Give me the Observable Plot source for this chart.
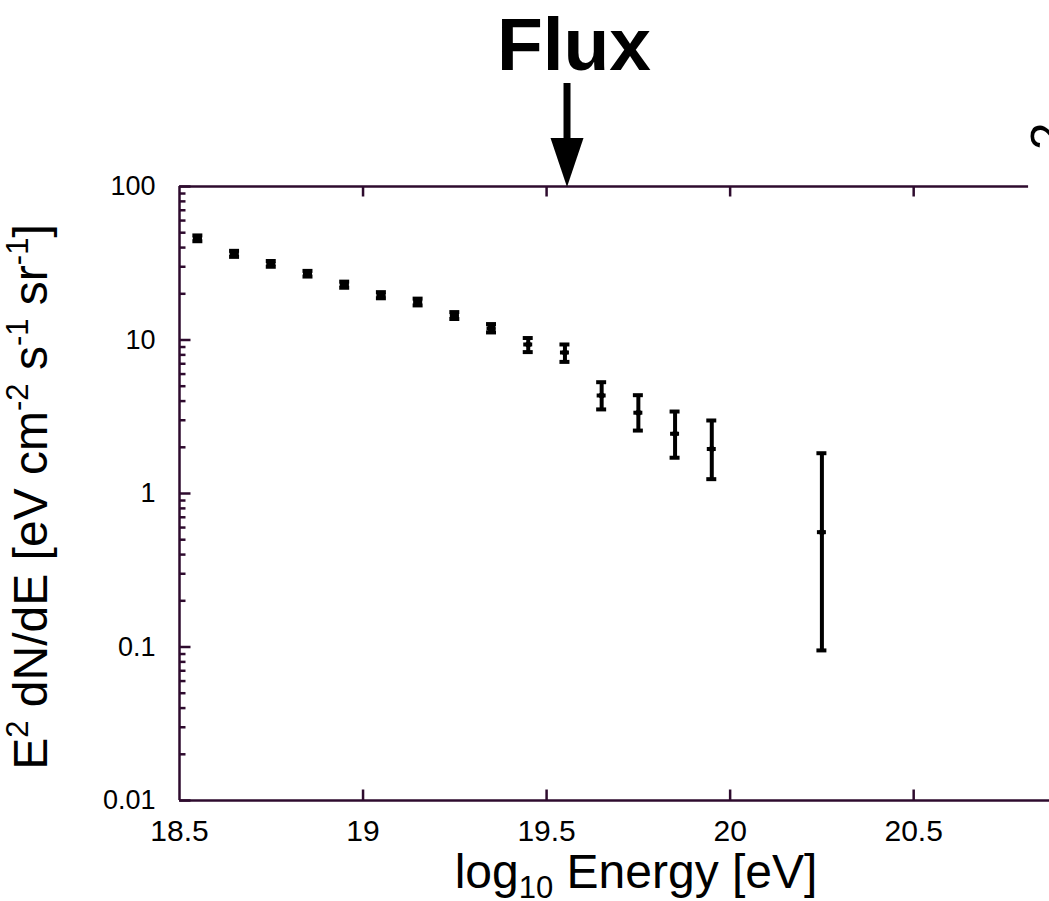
<!DOCTYPE html>
<html><head><meta charset="utf-8">
<script src="https://cdn.jsdelivr.net/npm/d3@7"></script>
<script src="https://cdn.jsdelivr.net/npm/@observablehq/plot@0.6"></script>
<style>html,body{margin:0;padding:0;background:#fff;} svg{display:block;}</style>
</head><body><div id="chart"></div>
<script>
// ---- data ----
const logEnergy = [18.55,18.65,18.75,18.85,18.95,19.05,19.15,19.25,19.35,19.45,19.55,19.65,19.75,19.85,19.95,20.25];
const flux      = [46,36.4,31.3,27.0,22.9,19.6,17.7,14.4,11.9,9.35,8.29,4.35,3.36,2.45,1.95,0.56];
const fluxLow   = [44,34.8,30.0,25.9,21.9,18.7,16.8,13.7,11.2,8.34,7.2,3.53,2.57,1.71,1.24,0.095];
const fluxHigh  = [48,38.1,32.7,28.2,24.0,20.5,18.6,15.2,12.7,10.3,9.35,5.31,4.37,3.42,2.99,1.83];
const xTicks = [18.5,19,19.5,20,20.5];
const xTickLabels = ["18.5","19","19.5","20","20.5"];
const yTicks = [0.01,0.1,1,10,100];
const yTickLabels = ["0.01","0.1","1","10","100"];
const xDomain = [18.5, 20.87];
const yDomain = [0.01, 100];
const topFrameEnd = 20.813;
const fluxArrowX = 19.557;
const titleText = "Flux";

// ---- derived ----
const rows = logEnergy.map((x, i) => ({x, y: flux[i], lo: fluxLow[i], hi: fluxHigh[i]}));
const yMinor = yTicks.slice(0, -1).flatMap(d => [2,3,4,5,6,7,8,9].map(k => d * k));
const capHalf = 0.0136;
const ink = "#000";
const axisInk = "#2e0b2e";
const font = "'Liberation Sans', Arial, Helvetica, sans-serif";

// tick-mark symbols (fixed pixel length, drawn inward from the frame)
const seg = (dx, dy) => ({draw(ctx) { ctx.moveTo(0, 0); ctx.lineTo(dx, dy); }});
const tickUp = seg(0, -11), tickDown = seg(0, 10), tickRight = seg(11, 0), tickRightMinor = seg(6, 0);
const tickStyle = {fill: "none", stroke: axisInk, strokeWidth: 2.5, r: 5};

const plot = Plot.plot({
  width: 1049, height: 901,
  marginLeft: 179, marginRight: 0, marginTop: 186, marginBottom: 101,
  style: {fontFamily: font, background: "#fff", overflow: "visible"},
  x: {domain: xDomain, label: null},
  y: {type: "log", domain: yDomain, label: null},
  marks: [
    Plot.axisX(xTicks, {tickSize: 0, tickPadding: 19, fontSize: 30, fill: "#000",
      tickFormat: d => xTickLabels[xTicks.indexOf(d)]}),
    Plot.axisY(yTicks, {tickSize: 0, tickPadding: 24, fontSize: 27, fill: "#000",
      tickFormat: d => yTickLabels[yTicks.indexOf(d)]}),
    // frame
    Plot.ruleX([xDomain[0]], {y1: () => yDomain[0], y2: () => yDomain[1], stroke: axisInk, strokeWidth: 2.5}),
    Plot.ruleY([yDomain[0]], {x1: () => xDomain[0], x2: () => xDomain[1], stroke: axisInk, strokeWidth: 2.5}),
    Plot.ruleY([yDomain[1]], {x1: () => xDomain[0], x2: () => topFrameEnd, stroke: axisInk, strokeWidth: 2.5}),
    // inward ticks
    Plot.dot(xTicks.slice(1), {x: d => d, y: () => yDomain[0], symbol: tickUp, ...tickStyle}),
    Plot.dot(xTicks.slice(1).filter(d => d <= topFrameEnd), {x: d => d, y: () => yDomain[1], symbol: tickDown, ...tickStyle}),
    Plot.dot(yTicks, {x: () => xDomain[0], y: d => d, symbol: tickRight, ...tickStyle}),
    Plot.dot(yMinor, {x: () => xDomain[0], y: d => d, symbol: tickRightMinor, ...tickStyle}),
    // error bars
    Plot.ruleX(rows, {x: "x", y1: "lo", y2: "hi", stroke: ink, strokeWidth: 4}),
    Plot.ruleY(rows, {y: "lo", x1: d => d.x - capHalf, x2: d => d.x + capHalf, stroke: ink, strokeWidth: 4}),
    Plot.ruleY(rows, {y: "hi", x1: d => d.x - capHalf, x2: d => d.x + capHalf, stroke: ink, strokeWidth: 4}),
    Plot.ruleY(rows, {y: "y", x1: d => d.x - capHalf * 0.9, x2: d => d.x + capHalf * 0.9, stroke: ink, strokeWidth: 4}),
    Plot.dot(rows, {x: "x", y: "y", r: d => (d.hi / d.lo < 1.2 ? 5.5 : 3), fill: ink, stroke: "none"})
  ]
});
document.getElementById("chart").appendChild(plot);

const svg = d3.select(plot);
const xs = plot.scale("x");

// title and arrow
svg.append("text").attr("x", 574).attr("y", 70).attr("text-anchor", "middle")
  .attr("font-family", font).attr("font-weight", "bold").attr("font-size", 75).attr("fill", "#000")
  .text(titleText);
const ax = xs.apply(fluxArrowX);
svg.append("line").attr("x1", ax).attr("x2", ax).attr("y1", 83).attr("y2", 142)
  .attr("stroke", "#000").attr("stroke-width", 7);
svg.append("path").attr("d", `M${ax - 16.5},138 L${ax + 16.5},138 L${ax},187 Z`).attr("fill", "#000");

// y label
const yl = svg.append("text").attr("transform", "translate(47,497) rotate(-90)")
  .attr("text-anchor", "middle").attr("font-family", font).attr("font-size", 48)
  .attr("fill", "#000").style("white-space", "pre");
const yParts = [["E", 0], ["2", 1], [" dN/dE [eV cm", 0], ["-2", 1], [" s", 0], ["-1", 1], [" sr", 0], ["-1", 1], ["]", 0]];
let prevSup = 0;
yParts.forEach(([t, sup]) => {
  const ts = yl.append("tspan").text(t);
  if (sup && !prevSup) ts.attr("dy", -19);
  if (!sup && prevSup) ts.attr("dy", 19);
  if (sup) ts.attr("font-size", 31);
  prevSup = sup;
});

// x label
const xl = svg.append("text").attr("x", 636).attr("y", 888).attr("text-anchor", "middle")
  .attr("font-family", font).attr("font-size", 48).attr("fill", "#000").style("white-space", "pre");
xl.append("tspan").text("log");
xl.append("tspan").attr("font-size", 31).attr("dy", 10).text("10");
xl.append("tspan").attr("dy", -10).text(" Energy [eV]");

// cropped fragment of neighbouring panel label
svg.append("text").attr("transform", "translate(1066,128) rotate(-90)")
  .attr("font-family", font).attr("font-size", 50).attr("fill", "#000").text("2-");
</script>
</body></html>
